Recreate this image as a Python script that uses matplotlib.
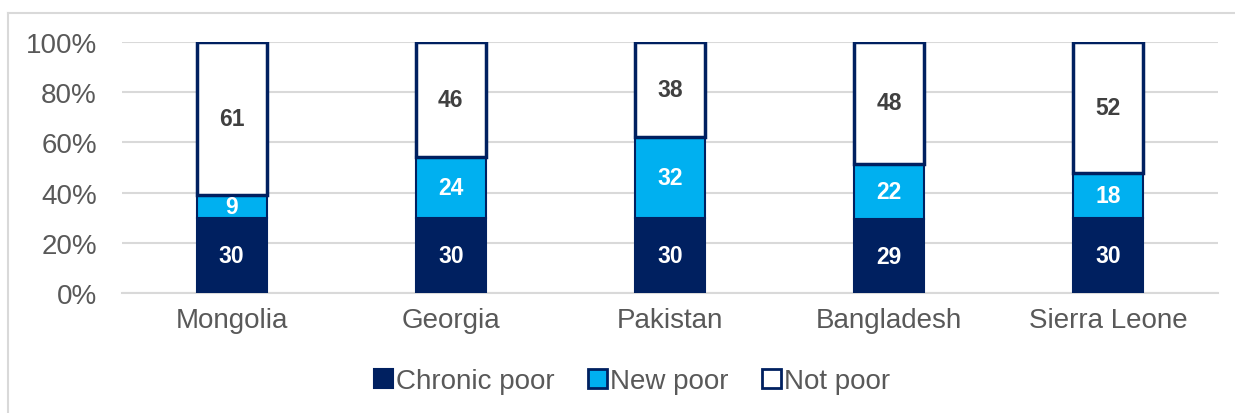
import matplotlib
matplotlib.use("Agg")
import matplotlib.pyplot as plt
from matplotlib.lines import Line2D
from matplotlib.patches import Patch
from matplotlib import font_manager as fm
import numpy as np

plt.rcParams['font.family'] = ['Liberation Sans', 'DejaVu Sans']

countries = ["Mongolia", "Georgia", "Pakistan", "Bangladesh", "Sierra Leone"]
chronic_poor = [30, 30, 30, 29.45, 30]
new_poor = [9, 24, 32, 22.1, 18]
not_poor = [61, 46, 38, 48.45, 52]
series_names = ["Chronic poor", "New poor", "Not poor"]
yticks = [0, 20, 40, 60, 80, 100]

navy = "#002060"
cyan = "#00B0F0"
grey_text = "#595959"
grid_col = "#D9D9D9"

# pick regular-width Liberation Sans Bold
bold_file = None
for f in fm.fontManager.ttflist:
    if "LiberationSans-Bold.ttf" in f.fname:
        bold_file = f.fname
        break
fs = 16.5
if bold_file:
    bold_fp = fm.FontProperties(fname=bold_file, size=fs)
else:
    bold_fp = fm.FontProperties(family="DejaVu Sans", weight="bold", size=fs - 1.5)

fig = plt.figure(figsize=(12.35, 4.14), dpi=100)
ax = fig.add_axes([122/1235, 1-294/414, (1218-122)/1235, (294-43)/414])

x = np.arange(len(countries))
w = 0.32
ax.bar(x, chronic_poor, w, color=navy, edgecolor=navy, linewidth=1.5, zorder=3)
ax.bar(x, new_poor, w, bottom=chronic_poor, color=cyan, edgecolor=navy, linewidth=1.5, zorder=3)
bottom3 = [a + b for a, b in zip(chronic_poor, new_poor)]
ax.bar(x, not_poor, w, bottom=bottom3, color="white", edgecolor=navy, linewidth=2.5, zorder=3)

for i in range(len(countries)):
    ax.text(x[i], chronic_poor[i] / 2, f"{chronic_poor[i]:.0f}", ha="center", va="center",
            color="white", fontproperties=bold_fp, zorder=4)
    ax.text(x[i], chronic_poor[i] + new_poor[i] / 2, f"{new_poor[i]:.0f}", ha="center", va="center",
            color="white", fontproperties=bold_fp, zorder=4)
    ax.text(x[i], bottom3[i] + not_poor[i] / 2, f"{not_poor[i]:.0f}", ha="center", va="center",
            color="#404040", fontproperties=bold_fp, zorder=4)

ax.set_xlim(-0.5, len(countries) - 0.5)
ax.set_ylim(0, 100)
ax.set_yticks(yticks)
ax.set_yticklabels([f"{t}%" for t in yticks])
ax.set_xticks(x)
ax.set_xticklabels(countries)
ax.tick_params(axis="both", length=0, labelsize=20, colors=grey_text)
ax.tick_params(axis="y", pad=18)
ax.tick_params(axis="x", pad=10)
ax.yaxis.grid(True, color=grid_col, linewidth=1.5, zorder=0)
ax.set_axisbelow(True)
for s in ["top", "right", "left"]:
    ax.spines[s].set_visible(False)
ax.spines["bottom"].set_color(grid_col)
ax.spines["bottom"].set_linewidth(1.5)

handles = [
    Patch(facecolor=navy, edgecolor=navy, linewidth=1.5),
    Patch(facecolor=cyan, edgecolor=navy, linewidth=2),
    Patch(facecolor="white", edgecolor=navy, linewidth=2),
]
fig.legend(handles, series_names, loc="center", bbox_to_anchor=(632/1235, 1-382/414),
           ncol=3, frameon=False, fontsize=20, handlelength=0.7, handleheight=0.7,
           handletextpad=0.1, columnspacing=1.2, labelcolor=grey_text)

# outer frame (left and top edges visible)
fig.add_artist(Line2D([8/1235, 8/1235], [0, 1-14/414], color="#D9D9D9", linewidth=1.5,
                      transform=fig.transFigure))
fig.add_artist(Line2D([8/1235, 1], [1-14/414, 1-14/414], color="#D9D9D9", linewidth=1.5,
                      transform=fig.transFigure))

fig.savefig("out.png", dpi=100)
